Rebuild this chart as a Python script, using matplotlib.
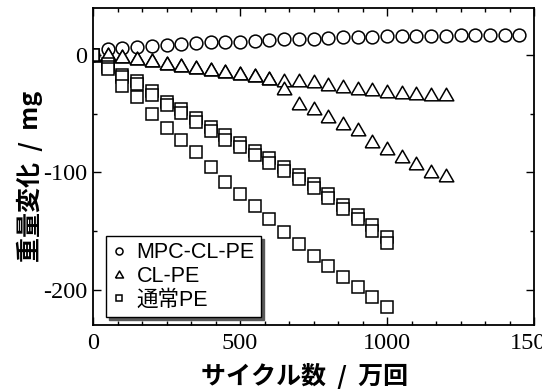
import matplotlib
matplotlib.use("Agg")
import matplotlib.pyplot as plt
from matplotlib.ticker import AutoMinorLocator
from matplotlib.patches import Rectangle
from matplotlib.font_manager import FontProperties

plt.rcParams["axes.unicode_minus"] = False

# --- data: weight change (mg) vs. cycles (x 10^4) ---
mpc_x = [0, 50, 100, 150, 200, 250, 300, 350, 400, 450, 500, 550, 600, 650, 700,
         750, 800, 850, 900, 950, 1000, 1050, 1100, 1150, 1200, 1250, 1300, 1350,
         1400, 1450]
mpc_y = [0, 4.7, 6.0, 6.6, 7.4, 8.3, 9.5, 10.4, 10.9, 11.0, 11.3, 11.7, 12.6, 13.2,
         13.3, 13.8, 14.5, 15.0, 15.2, 15.5, 16.0, 16.0, 16.3, 16.5, 16.5, 16.8,
         17.0, 17.0, 17.0, 17.0]

cl_x = [0, 50, 100, 150, 200, 250, 300, 350, 400, 450, 500, 550, 600, 650, 700,
        750, 800, 850, 900, 950, 1000, 1050, 1100, 1150, 1200]
cl_y1 = [0, 0.5, -1.0, -2.5, -4.7, -6.6, -8.7, -10.4, -12.3, -13.8, -15.1, -17.4,
         -19.4, -20.9, -21.5, -22.5, -24.5, -26.0, -28.0, -29.4, -30.8, -31.6,
         -32.2, -33.6, -33.6]
cl_y2 = [0, 0.5, -1.0, -2.5, -4.7, -6.6, -8.7, -10.4, -12.3, -13.8, -15.1, -17.4,
         -19.4, -28.0, -41.0, -45.0, -52.0, -58.0, -63.0, -73.0, -79.0, -86.0,
         -92.0, -99.0, -102.0]

pe_x = [0, 50, 100, 150, 200, 250, 300, 350, 400, 450, 500, 550, 600, 650, 700,
        750, 800, 850, 900, 950, 1000]
pe_y1 = [0, -8, -17, -22, -31, -40, -46, -54, -61, -68, -75, -82, -88, -95, -102,
         -110, -118, -128, -136, -145, -155]
pe_y2 = [0, -10, -19, -25, -34, -43, -49, -57, -65, -72, -78, -85, -92, -99, -106,
         -113, -122, -131, -140, -150, -160]
pe_y3 = [0, -12, -26, -35.6, -50, -62.5, -72, -83, -95, -108, -118, -129, -140,
         -151, -161, -171, -180, -189, -198, -206, -215]

x_ticks = [0, 500, 1000, 1500]
y_ticks = [-200, -100, 0]
labels = ["MPC-CL-PE", "CL-PE", "通常PE"]

# equilateral triangle marker
tri = [(-1, -0.866), (1, -0.866), (0, 0.866), (-1, -0.866)]

fig = plt.figure(figsize=(5.59, 3.91), dpi=100)
ax = fig.add_axes([0.1664, 0.1688, 0.7889, 0.8107])

common = dict(linestyle="none", markerfacecolor="white", markeredgecolor="black",
              markeredgewidth=1.1)
h_circ, = ax.plot(mpc_x, mpc_y, marker="o", markersize=9.2, **common)
h_tri, = ax.plot(cl_x, cl_y1, marker=tri, markersize=10.5, **common)
ax.plot(cl_x, cl_y2, marker=tri, markersize=10.5, **common)
h_sq, = ax.plot(pe_x, pe_y1, marker="s", markersize=8.6, **common)
ax.plot(pe_x, pe_y2, marker="s", markersize=8.6, **common)
ax.plot(pe_x, pe_y3, marker="s", markersize=8.6, **common)

ax.set_xlim(0, 1500)
ax.set_ylim(-230, 40)
ax.set_xticks(x_ticks)
ax.set_yticks(y_ticks)
ax.xaxis.set_minor_locator(AutoMinorLocator(6))
ax.yaxis.set_minor_locator(AutoMinorLocator(2))
ax.tick_params(which="both", direction="in", top=True, right=True, width=1.0)
ax.tick_params(which="major", length=6)
ax.tick_params(which="minor", length=3)
ax.tick_params(axis="x", pad=6)
ax.tick_params(axis="y", pad=4)
for s in ax.spines.values():
    s.set_linewidth(1.3)

for lab in ax.get_xticklabels() + ax.get_yticklabels():
    lab.set_fontfamily("Liberation Serif")
    lab.set_fontsize(17.5)

ax.set_xlabel("サイクル数  /  万回", family=["Noto Sans CJK JP", "DejaVu Sans"],
              fontsize=18, fontweight="bold", labelpad=6, x=0.48)
ax.set_ylabel("重量変化  /  mg", family=["Noto Sans CJK JP", "DejaVu Sans"],
              fontsize=18, fontweight="bold", labelpad=0, y=0.47)

leg = ax.legend([h_circ, h_tri, h_sq], labels, loc="lower left",
                bbox_to_anchor=(0.03, 0.025), borderaxespad=0,
                prop=FontProperties(family=["Liberation Sans", "Noto Sans CJK JP"],
                                    size=15.5),
                markerscale=0.55, handlelength=0.6, handletextpad=0.5,
                labelspacing=0.12, borderpad=0.3, fancybox=False,
                shadow={"color": "0.35", "alpha": 1.0}, framealpha=1)
leg.get_frame().set_edgecolor("black")
leg.get_frame().set_linewidth(1.0)

# page edge trims the rightmost tick label
fig.add_artist(Rectangle((542 / 559, 0), 1, 1, transform=fig.transFigure,
                         facecolor="white", edgecolor="none", zorder=10))

fig.savefig("out.png", dpi=100)
